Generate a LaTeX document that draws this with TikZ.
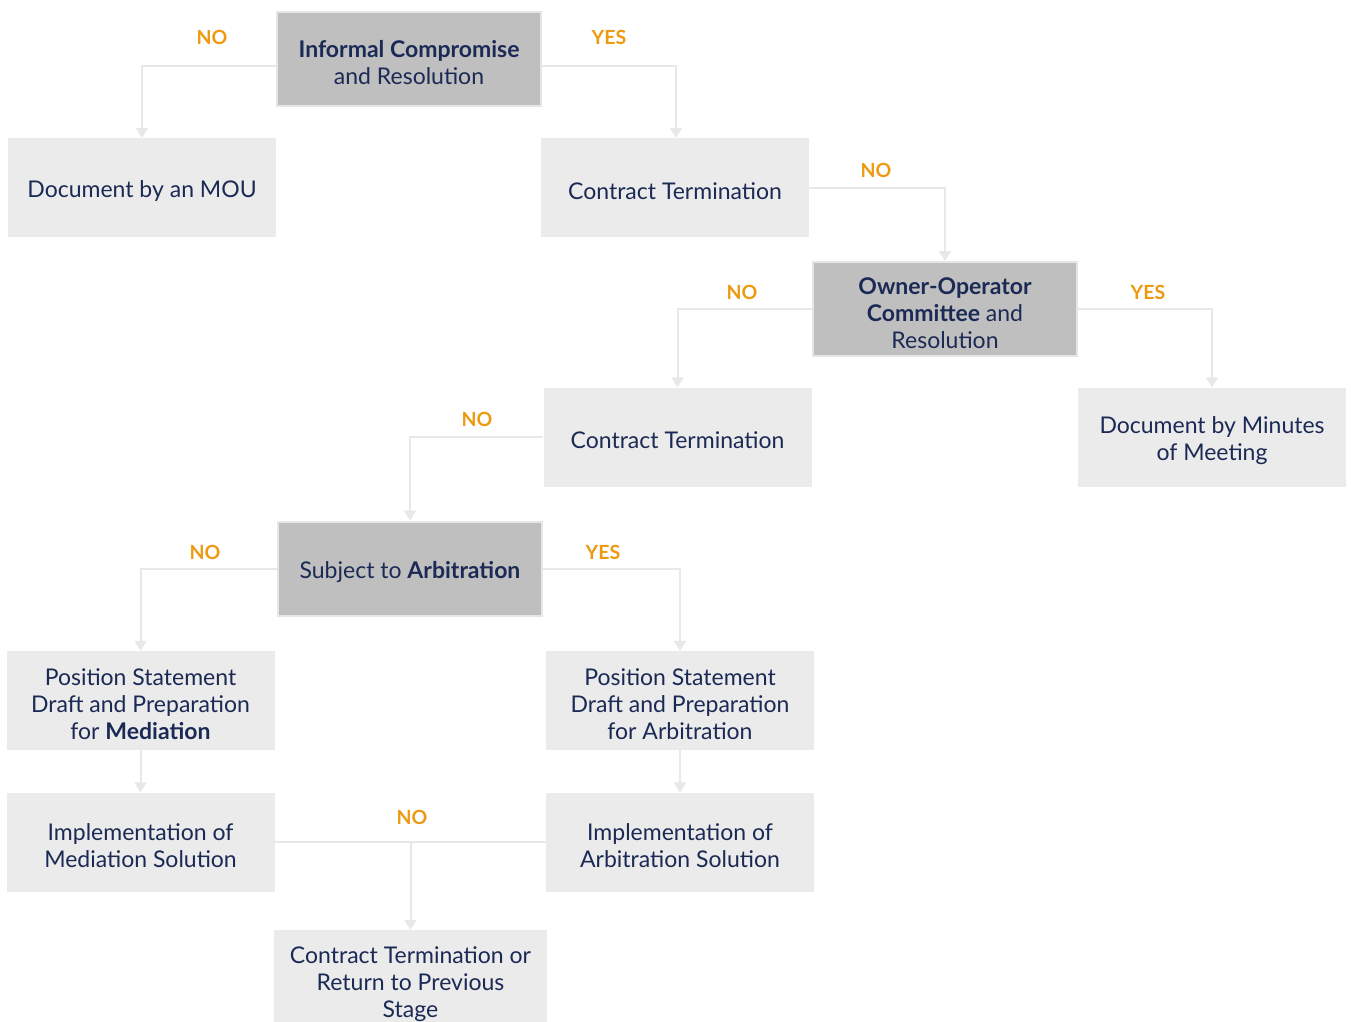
\documentclass[tikz,border=0pt]{standalone}
\usepackage{fontspec}
\setmainfont{Lato}
\usetikzlibrary{arrows.meta}
\definecolor{navy}{HTML}{1B2A55}
\definecolor{lightbox}{HTML}{EBEBEB}
\definecolor{darkbox}{HTML}{BFBFBF}
\definecolor{borderc}{HTML}{E6E6E6}
\definecolor{linec}{HTML}{E8E8E8}
\definecolor{lblc}{HTML}{EE9A10}
\newcommand\mystrut{\rule{0pt}{25pt}}
\begin{document}
\begin{tikzpicture}[x=1pt,y=-1pt,
  box/.style={fill=lightbox, minimum width=268pt, minimum height=99pt, inner sep=0pt, align=center, font=\fontsize{23}{27}\selectfont, text=navy, execute at begin node={\rule{0pt}{24pt}}},
  dec/.style={box, fill=darkbox, draw=borderc, line width=2pt, minimum width=264pt, minimum height=94pt},
  conn/.style={draw=linec, line width=2pt},
  arr/.style={conn, -{Triangle[width=12pt,length=10pt]}},
  lbl/.style={font=\bfseries\fontsize{19.5}{19.5}\selectfont, text=lblc, inner sep=0pt}]
\useasboundingbox (0,0) rectangle (1351,1021);
\fill[white] (0,0) rectangle (1351,1021);

\node[dec] (b1) at (409,59) {\mystrut\textbf{Informal Compromise}\\and Resolution};
\node[box] (b2) at (142,187.5) {Document by an MOU};
\node[box] (b3) at (675,187.5) {Contract Termination};
\node[dec] (b4) at (945,309) {\mystrut\textbf{Owner-Operator}\\\textbf{Committee} and\\Resolution};
\node[box] (b5) at (677.5,437) {Contract Termination};
\node[box] (b6) at (1212,437) {\mystrut Document by Minutes\\of Meeting};
\node[dec] (b7) at (410,568.5) {Subject to \textbf{Arbitration}};
\node[box] (b8) at (140.5,700.5) {\mystrut Position Statement\\Draft and Preparation\\for \textbf{Mediation}};
\node[box] (b9) at (680,700.5) {\mystrut Position Statement\\Draft and Preparation\\for Arbitration};
\node[box] (b10) at (140.5,842) {\mystrut Implementation of\\Mediation Solution};
\node[box] (b11) at (680,842) {\mystrut Implementation of\\Arbitration Solution};
\node[box, minimum width=273pt, minimum height=100pt] (b12) at (410.5,980) {\mystrut Contract Termination or\\Return to Previous\\Stage};

\draw[arr] ([yshift=-7pt]b1.west) -| (b2.north);
\draw[arr] ([yshift=-7pt]b1.east) -| ([xshift=1pt]b3.north);
\draw[arr] (b3.east) -| (b4.north);
\draw[arr] (b4.west) -| (b5.north);
\draw[arr] (b4.east) -| (b6.north);
\draw[arr] (b5.west) -| (b7.north);
\draw[arr] (b7.west) -| (b8.north);
\draw[arr] (b7.east) -| (b9.north);
\draw[arr] (b8.south) -- (b10.north);
\draw[arr] (b9.south) -- (b11.north);
\draw[conn] (b10.east) -- (b11.west);
\coordinate (j) at (b12.north |- b10.east);
\draw[arr] (j) -- (b12.north);

\node[lbl] (l1) at (212,37) {NO};
\node[lbl] (l2) at (609,37) {YES};
\node[lbl] (l3) at (876,170) {NO};
\node[lbl] (l4) at (742,292) {NO};
\node[lbl] (l5) at (1148,292) {YES};
\node[lbl] (l6) at (477,419) {NO};
\node[lbl] (l7) at (205,552) {NO};
\node[lbl] (l8) at (603,552) {YES};
\node[lbl] (l9) at (412,817) {NO};
\end{tikzpicture}
\end{document}
